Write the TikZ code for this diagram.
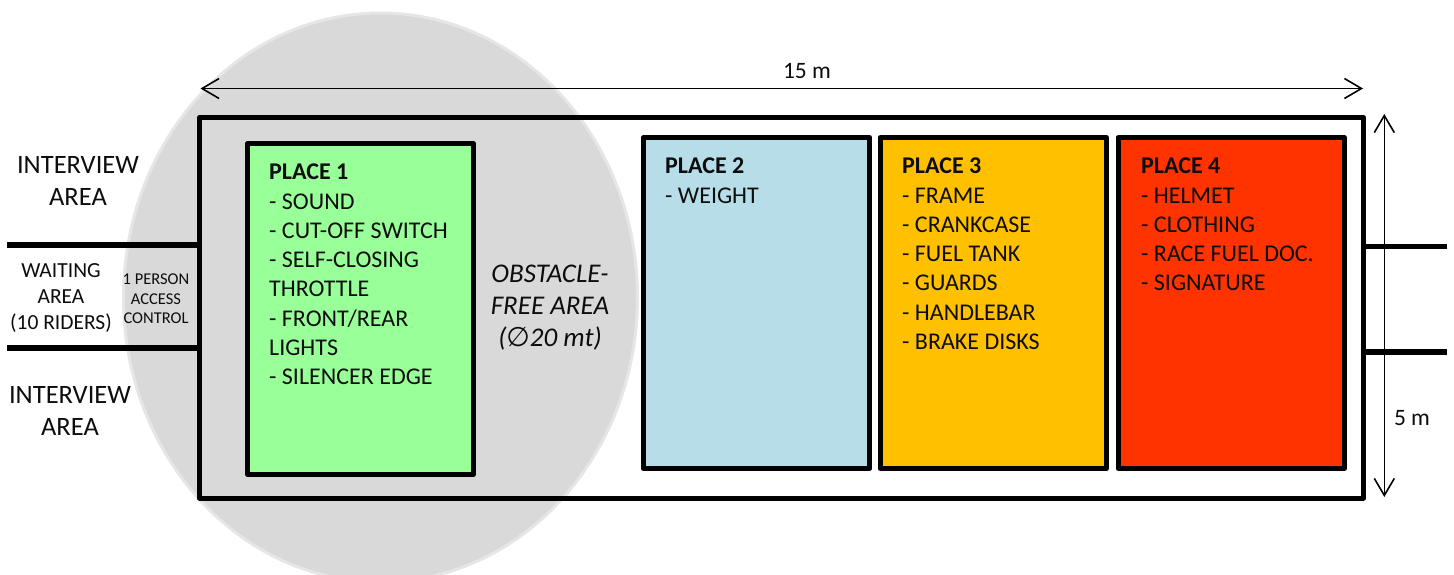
\documentclass[tikz,border=0pt]{standalone}
\usepackage{fontspec}
\setmainfont{Carlito}
\newfontfamily\symfont{DejaVu Sans}
\usetikzlibrary{arrows.meta}
\definecolor{circgray}{HTML}{D9D9D9}
\definecolor{circedge}{HTML}{E6E6E6}
\definecolor{placegreen}{HTML}{99FF99}
\definecolor{placeblue}{HTML}{B7DEE8}
\definecolor{placeamber}{HTML}{FFC000}
\definecolor{placered}{HTML}{FF3300}
\definecolor{inktext}{HTML}{0D0D0D}
\tikzset{
  x=1pt,y=-1pt,
  heavy/.style={line width=5pt,black},
  wall/.style={line width=5.4pt,black},
  placebox/.style={heavy,line join=round,minimum height=330.5pt,inner sep=0pt,outer sep=0pt},
  dimline/.style={line width=1.4pt,black,{Straight Barb[length=17pt,width=20pt,line width=1.6pt]}-{Straight Barb[length=17pt,width=20pt,line width=1.6pt]}},
  listtext/.style={anchor=north west,inner sep=0pt,align=left,text=inktext,font=\fontsize{24}{29.25}\selectfont},
  bigtext/.style={inner sep=0pt,align=center,text=inktext,font=\fontsize{26.5}{32}\selectfont},
  freetext/.style={inner sep=0pt,align=center,text=inktext,font=\fontsize{27}{32}\selectfont\itshape},
  midtext/.style={inner sep=0pt,align=center,text=inktext,font=\fontsize{21.5}{26}\selectfont},
  smalltext/.style={inner sep=0pt,align=center,text=inktext,font=\fontsize{16.5}{19.5}\selectfont},
  dimtext/.style={inner sep=0pt,text=inktext,font=\fontsize{23.5}{26}\selectfont},
}
\begin{document}
\begin{tikzpicture}
\useasboundingbox (0,0) rectangle (1454,574);
\begin{scope}
\clip (0,0) rectangle (1454,574);
\path[fill=circgray,draw=circedge,line width=3pt] (380.5,297.5) ellipse[x radius=257,y radius=284.5];
\end{scope}
% outer area
\node[draw,heavy,fill=none,minimum width=1164pt,minimum height=380.5pt,inner sep=0pt,outer sep=0pt,line join=round] (outer) at (781.5,307.75) {};
% places
\node[draw,placebox,fill=placegreen,minimum width=226pt] (p1) at (360.5,309) {};
\node[draw,placebox,fill=placeblue,minimum width=226.7pt] (p2) at (756.6,303) {};
\node[draw,placebox,fill=placeamber,minimum width=226.5pt] (p3) at (993.25,303) {};
\node[draw,placebox,fill=placered,minimum width=226.5pt] (p4) at (1231.25,303) {};
% place text
\node[listtext] (t1) at (269,164) {\textbf{PLACE 1}\\- SOUND\\- CUT-OFF SWITCH\\- SELF-CLOSING\\THROTTLE\\- FRONT/REAR\\LIGHTS\\- SILENCER EDGE};
\node[listtext] (t2) at (665,158) {\textbf{PLACE 2}\\- WEIGHT};
\node[listtext] (t3) at (902,158) {\textbf{PLACE 3}\\- FRAME\\- CRANKCASE\\- FUEL TANK\\- GUARDS\\- HANDLEBAR\\- BRAKE DISKS};
\node[listtext] (t4) at (1141,158) {\textbf{PLACE 4}\\- HELMET\\- CLOTHING\\- RACE FUEL DOC.\\- SIGNATURE};
% side walls
\coordinate (wl1) at (7,245);
\coordinate (wl2) at (7,348);
\coordinate (wr1) at (1447,246.5);
\coordinate (wr2) at (1447,352);
\draw[wall] (wl1) -- (wl1 -| outer.west);
\draw[wall] (wl2) -- (wl2 -| outer.west);
\draw[wall] (wr1) -- (wr1 -| outer.east);
\draw[wall] (wr2) -- (wr2 -| outer.east);
% side text
\node[bigtext] (i1) at (78,181) {INTERVIEW\\AREA};
\node[bigtext] (i2) at (70,411) {INTERVIEW\\AREA};
\node[midtext] (w) at (61,298) {WAITING\\AREA\\(10 RIDERS)};
\node[smalltext] (acc) at (156,299) {1 PERSON\\ACCESS\\CONTROL};
\node[freetext] (free) at (550,307.5) {OBSTACLE-\\FREE AREA\\({\symfont\itshape ∅}20 mt)};
% dimensions
\coordinate (hl) at (200.5,88.5);
\coordinate (hr) at (1363,88.5);
\coordinate (vt) at (1384.3,114);
\coordinate (vb) at (1384.3,497);
\draw[dimline] (hl) -- (hr);
\draw[dimline] (vb) -- (vt);
\node[dimtext] (d15) at (807,71) {15 m};
\node[dimtext] (d5) at (1412,418) {5 m};
\end{tikzpicture}
\end{document}
